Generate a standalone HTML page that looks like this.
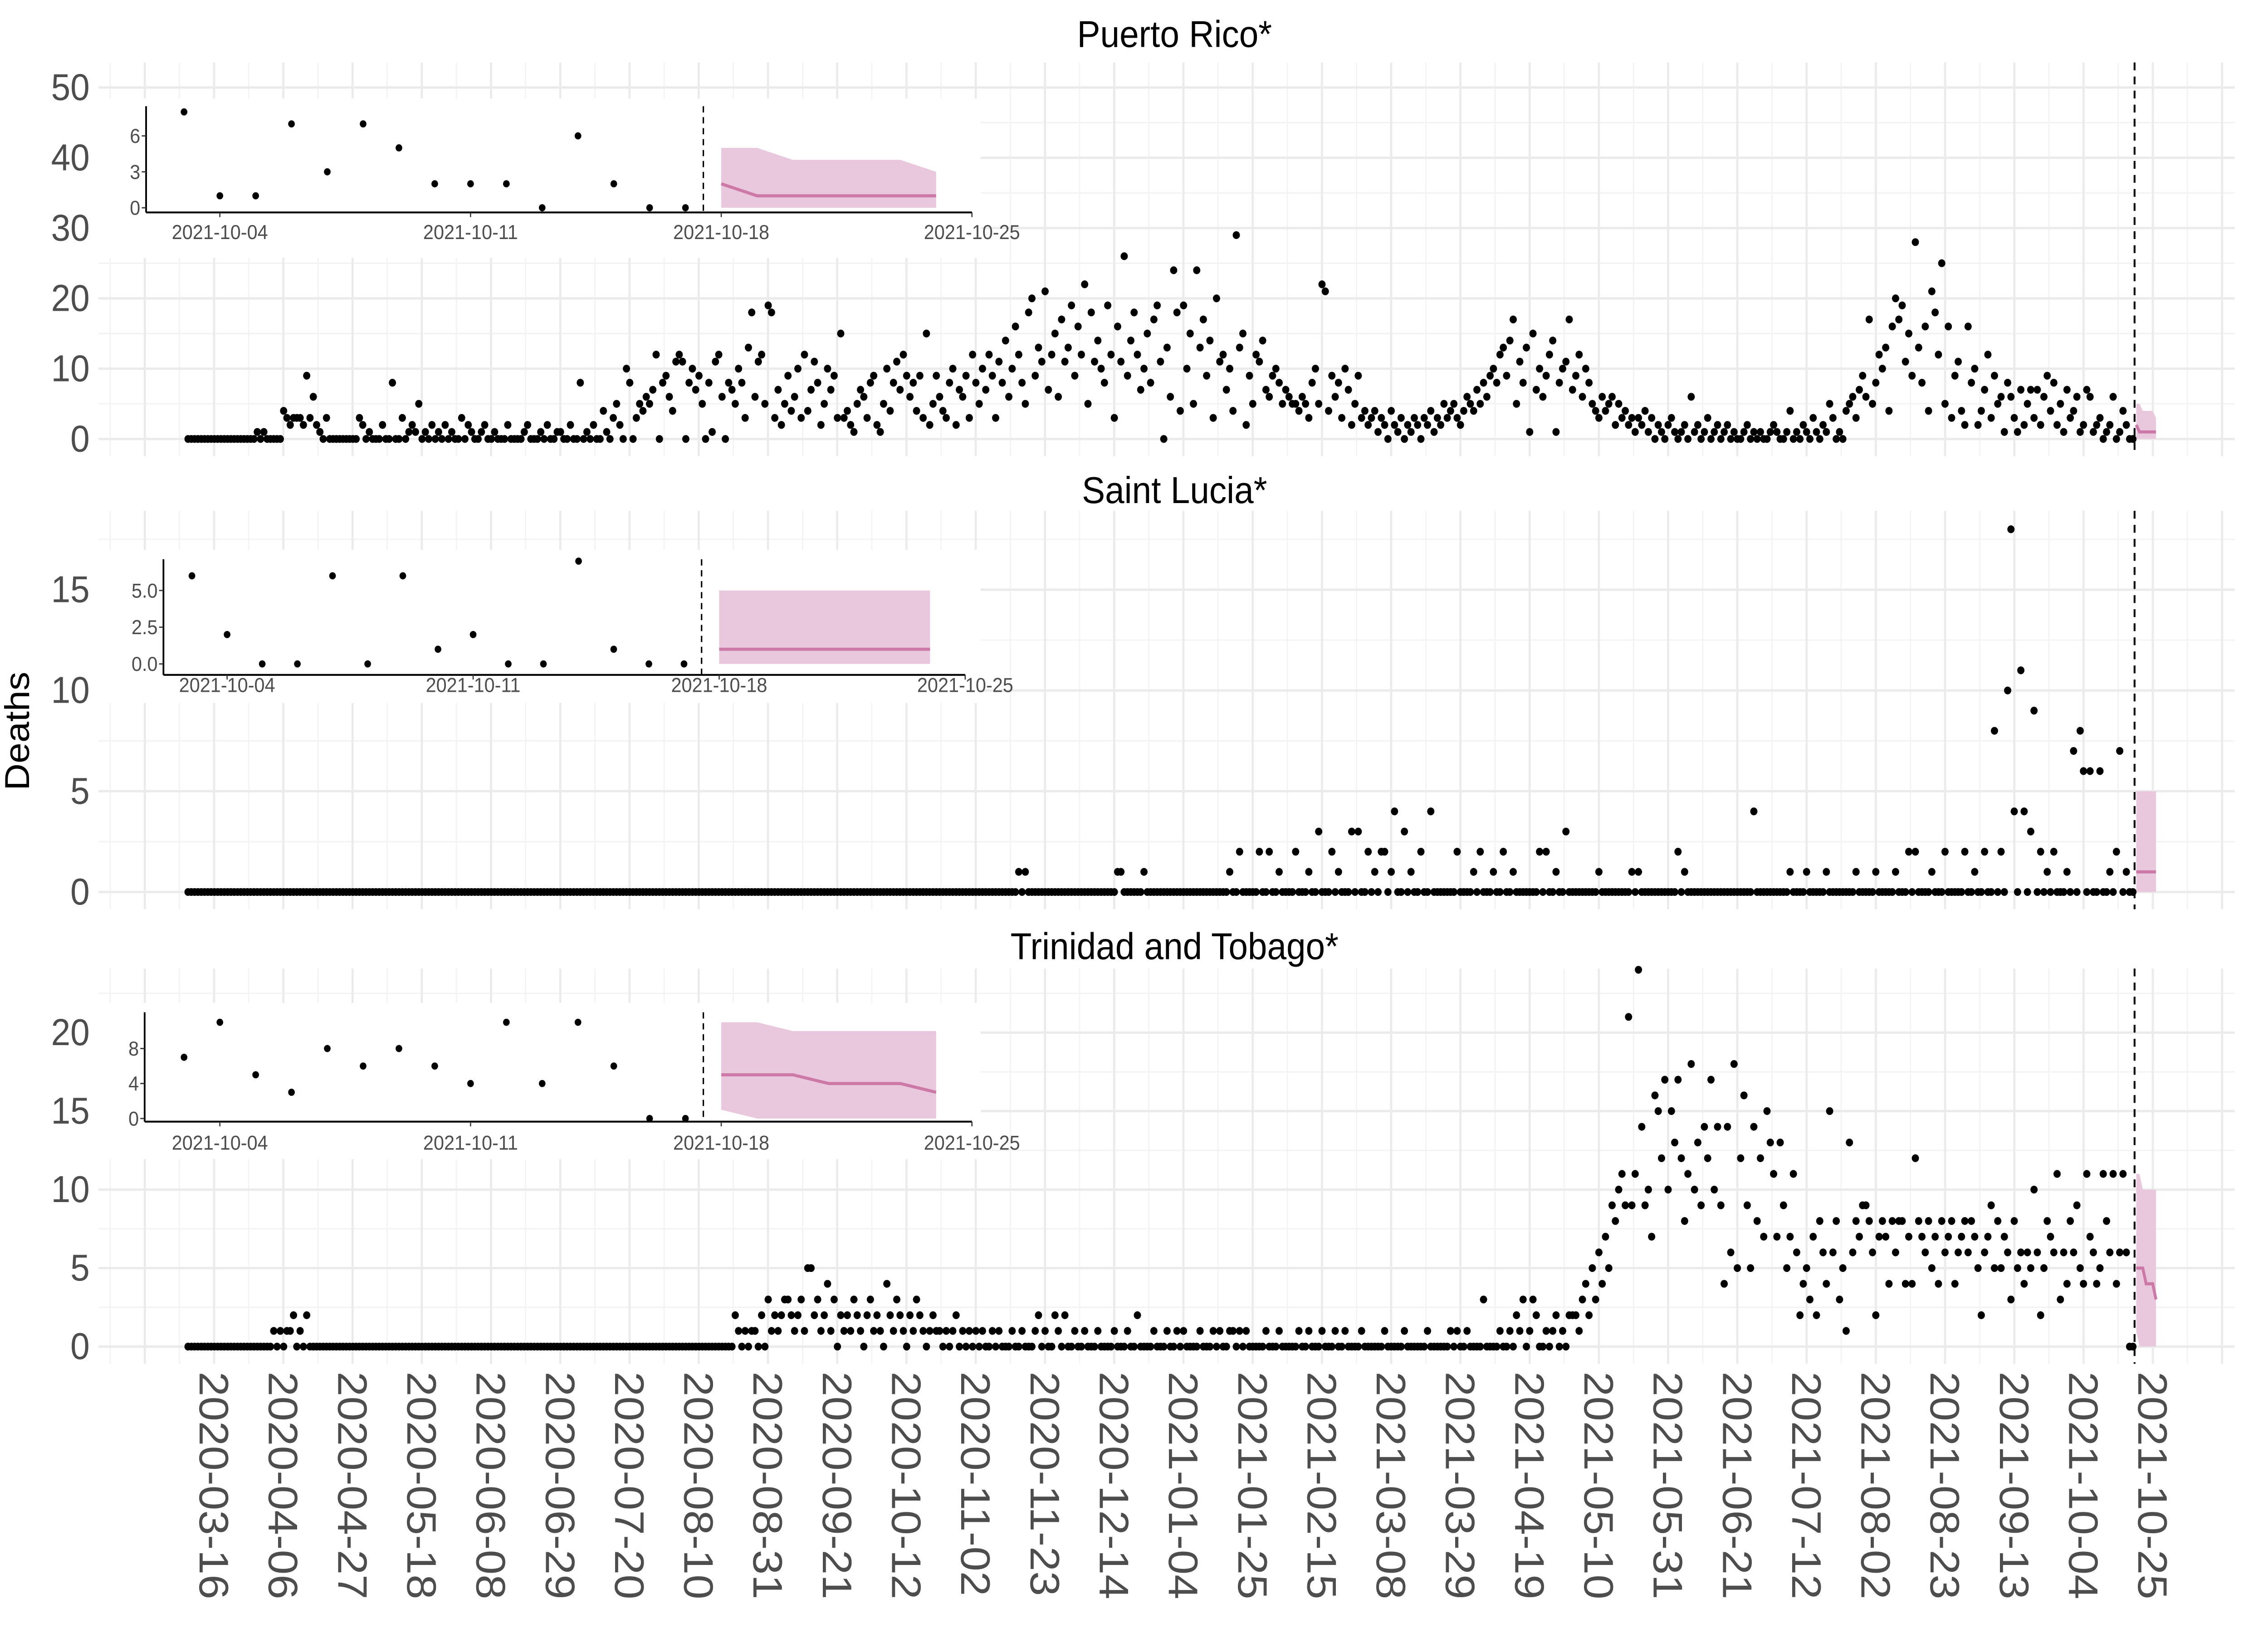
<!DOCTYPE html>
<html><head><meta charset="utf-8">
<style>
html,body{margin:0;padding:0;background:#fff;width:100%;height:100%;overflow:hidden;}
svg{display:block;font-family:"Liberation Sans",Arial,sans-serif;width:100vw;height:100vh;}
</style></head>
<body>
<svg id="chart" viewBox="0 0 1568 1045.33" preserveAspectRatio="none" xmlns="http://www.w3.org/2000/svg">
<rect x="0" y="0" width="1568" height="1046" fill="#fff"/>
<text x="20" y="468" font-size="24" fill="#000" text-anchor="middle" transform="rotate(-90 20 468)">Deaths</text>
</svg>
<script>
// ---- data ----
const xTickLabels = ["2020-03-16","2020-04-06","2020-04-27","2020-05-18","2020-06-08","2020-06-29","2020-07-20","2020-08-10","2020-08-31","2020-09-21","2020-10-12","2020-11-02","2020-11-23","2020-12-14","2021-01-04","2021-01-25","2021-02-15","2021-03-08","2021-03-29","2021-04-19","2021-05-10","2021-05-31","2021-06-21","2021-07-12","2021-08-02","2021-08-23","2021-09-13","2021-10-04","2021-10-25"];
const panelTitles = ["Puerto Rico*","Saint Lucia*","Trinidad and Tobago*"];

const prDeaths = [
0,0,0,0,0,0,0,0,0,0,0,0,0,0,0,0,0,0,0,0,
0,1,0,1,0,0,0,0,0,4,3,2,3,3,3,2,9,3,6,2,
1,0,3,0,0,0,0,0,0,0,0,0,3,2,0,1,0,0,0,2,
0,0,8,0,0,3,0,1,2,1,5,0,1,0,2,0,1,0,2,0,
1,0,0,3,0,2,1,0,0,1,2,0,0,1,0,0,0,2,0,0,
0,0,1,2,0,0,0,1,0,2,0,0,1,1,0,0,2,0,0,8,
0,1,0,2,0,0,4,1,0,3,5,2,0,10,8,0,3,5,4,6,
5,7,12,0,8,9,6,4,11,12,11,0,8,10,7,9,5,0,8,1,
11,12,6,0,8,7,5,10,8,3,13,18,6,11,12,5,19,18,3,7,
2,5,9,4,6,10,3,12,4,7,11,8,2,5,10,7,9,3,15,3,
4,2,1,5,7,6,3,8,9,2,1,5,10,4,8,11,7,12,9,6,
8,4,9,3,15,2,5,9,6,4,3,8,10,2,7,6,9,3,12,8,
5,10,7,12,9,3,11,8,14,6,10,16,12,8,5,18,20,9,13,11,
21,7,12,15,6,17,11,13,19,9,16,12,22,5,18,11,14,10,8,19,
12,3,16,11,26,9,14,18,12,7,10,15,8,17,19,11,0,13,6,24,
18,4,19,10,15,5,24,13,17,9,14,3,20,11,12,7,10,4,29,13,
15,2,9,5,12,11,14,7,6,9,10,8,5,7,6,5,5,4,6,5,
3,8,10,5,22,21,4,9,6,8,3,10,7,2,5,9,3,4,2,3,
4,1,3,2,0,4,2,1,3,0,2,1,3,2,0,3,2,4,1,3,
2,5,3,4,5,3,2,4,6,5,4,7,5,8,6,9,10,8,12,13,
9,14,17,5,11,8,13,1,15,7,10,6,9,12,14,1,8,10,11,17,
7,9,12,6,10,8,5,4,3,6,4,5,6,2,5,3,4,2,3,1,
3,2,4,1,3,0,2,1,0,2,3,1,0,1,2,0,6,1,2,0,
1,3,0,1,2,0,1,2,0,1,0,0,1,2,0,1,0,1,0,0,
1,2,1,0,0,1,4,0,1,0,2,1,0,3,1,0,2,1,5,3,
0,1,0,4,5,6,3,7,9,6,17,5,8,12,10,13,4,16,20,17,
19,11,15,9,28,13,8,16,4,21,18,12,25,5,16,3,9,11,4,2,
16,8,10,2,4,7,12,3,9,5,6,1,8,6,3,1,7,2,5,7,
3,7,2,6,9,4,8,2,5,1,7,3,4,6,1,2,7,6,1,2,3,0,1,2,6,0,1,4,2,0,0];

const slDeaths = [
0,0,0,0,0,0,0,0,0,0,0,0,0,0,0,0,0,0,0,0,
0,0,0,0,0,0,0,0,0,0,0,0,0,0,0,0,0,0,0,0,
0,0,0,0,0,0,0,0,0,0,0,0,0,0,0,0,0,0,0,0,
0,0,0,0,0,0,0,0,0,0,0,0,0,0,0,0,0,0,0,0,
0,0,0,0,0,0,0,0,0,0,0,0,0,0,0,0,0,0,0,0,
0,0,0,0,0,0,0,0,0,0,0,0,0,0,0,0,0,0,0,0,
0,0,0,0,0,0,0,0,0,0,0,0,0,0,0,0,0,0,0,0,
0,0,0,0,0,0,0,0,0,0,0,0,0,0,0,0,0,0,0,0,
0,0,0,0,0,0,0,0,0,0,0,0,0,0,0,0,0,0,0,0,
0,0,0,0,0,0,0,0,0,0,0,0,0,0,0,0,0,0,0,0,
0,0,0,0,0,0,0,0,0,0,0,0,0,0,0,0,0,0,0,0,
0,0,0,0,0,0,0,0,0,0,0,0,0,0,0,0,0,0,0,0,
0,0,0,0,0,0,0,0,0,0,0,0,1,0,1,0,0,0,0,0,
0,0,0,0,0,0,0,0,0,0,0,0,0,0,0,0,0,0,0,0,
0,0,1,1,0,0,0,0,0,0,1,0,0,0,0,0,0,0,0,0,
0,0,0,0,0,0,0,0,0,0,0,0,0,0,0,0,1,0,0,2,
0,0,0,0,0,2,0,0,2,0,0,1,0,0,0,0,2,0,0,0,
1,0,0,3,0,0,0,2,0,1,0,0,0,3,0,3,0,0,2,0,
1,0,2,2,0,1,4,0,0,3,0,1,0,0,2,0,0,4,0,0,
0,0,0,0,0,2,0,0,0,0,1,0,2,0,0,0,1,0,0,2,
0,0,1,0,0,0,0,0,0,0,2,0,2,0,0,1,0,0,3,0,
0,0,0,0,0,0,0,0,1,0,0,0,0,0,0,0,0,0,1,0,
1,0,0,0,0,0,0,0,0,0,0,0,2,0,1,0,0,0,0,0,
0,0,0,0,0,0,0,0,0,0,0,0,0,0,0,4,0,0,0,0,
0,0,0,0,0,0,1,0,0,0,0,1,0,0,0,0,0,1,0,0,
0,0,0,0,0,0,1,0,0,0,0,0,1,0,0,0,0,0,1,0,
0,0,2,0,2,0,0,0,0,1,0,0,0,2,0,0,0,0,0,2,
0,0,1,0,0,2,0,0,8,0,2,0,10,18,4,0,11,4,0,3,
9,0,2,0,1,0,2,0,0,0,1,0,7,0,8,6,0,6,0,0,
6,0,0,1,0,2,7,0,1,0,0];

const ttDeaths = [
0,0,0,0,0,0,0,0,0,0,0,0,0,0,0,0,0,0,0,0,
0,0,0,0,0,0,1,0,1,0,1,1,2,0,1,0,2,0,0,0,
0,0,0,0,0,0,0,0,0,0,0,0,0,0,0,0,0,0,0,0,
0,0,0,0,0,0,0,0,0,0,0,0,0,0,0,0,0,0,0,0,
0,0,0,0,0,0,0,0,0,0,0,0,0,0,0,0,0,0,0,0,
0,0,0,0,0,0,0,0,0,0,0,0,0,0,0,0,0,0,0,0,
0,0,0,0,0,0,0,0,0,0,0,0,0,0,0,0,0,0,0,0,
0,0,0,0,0,0,0,0,0,0,0,0,0,0,0,0,0,0,0,0,
0,0,0,0,0,0,2,1,0,1,0,1,1,0,2,0,3,1,2,1,
2,3,3,2,1,2,3,1,5,5,2,3,1,2,4,1,3,0,2,1,
2,1,3,2,1,0,2,3,1,2,1,0,4,2,1,3,2,1,0,2,
1,3,2,1,0,1,2,1,1,0,1,0,1,2,0,1,0,1,0,1,
0,1,0,0,1,0,1,0,0,0,1,0,0,1,0,0,0,1,2,0,
1,0,0,2,1,0,2,0,0,1,0,0,1,0,0,0,1,0,0,0,
0,1,0,0,0,1,0,0,2,0,0,0,0,1,0,0,0,1,0,0,
1,0,1,0,0,0,0,1,0,0,0,1,0,1,0,0,1,1,0,1,
0,1,0,0,0,0,0,1,0,0,0,1,0,0,0,0,0,1,0,0,
1,0,0,0,1,0,0,0,1,0,0,1,0,0,0,0,1,0,0,0,
0,0,0,1,0,0,0,0,0,1,0,0,0,0,0,0,1,0,0,0,
0,0,0,1,0,1,0,0,1,0,0,0,0,3,0,0,0,0,1,0,
0,1,0,2,1,3,0,1,3,2,0,0,1,0,1,2,0,1,0,2,
2,2,1,3,4,2,5,3,6,4,7,5,9,8,10,11,9,21,9,11,
24,14,9,10,7,16,15,12,17,10,15,13,17,12,8,11,18,10,13,9,
14,12,17,10,14,9,4,14,6,18,5,12,16,9,5,14,8,12,7,15,
13,11,7,13,9,5,7,11,6,2,4,5,3,7,2,8,6,4,15,6,
8,3,5,1,13,6,8,7,9,9,8,6,2,7,8,7,4,8,6,8,
8,4,7,4,12,8,7,6,8,5,7,4,8,6,7,8,4,6,7,8,
6,8,7,5,2,6,7,9,5,8,5,7,6,3,8,5,6,4,6,5,
10,6,2,5,8,7,6,11,3,6,4,8,6,9,5,4,11,7,6,4,
5,11,8,6,11,4,6,11,6,0,0];

// forecasts (7 days)
const prFcMean = [2,1,1,1,1,1,1];
const prFcUpper = [5,5,4,4,4,4,3];
const prFcLower = [0,0,0,0,0,0,0];
const slFcMean = [1,1,1,1,1,1,1];
const slFcUpper = [5,5,5,5,5,5,5];
const slFcLower = [0,0,0,0,0,0,0];
const ttFcMean = [5,5,5,4,4,4,3];
const ttFcUpper = [11,11,10,10,10,10,10];
const ttFcLower = [1,0,0,0,0,0,0];

// inset observed (Oct 3 .. Oct 17)
const insetDays = [3,4,5,6,7,8,9,10,11,12,13,14,15,16,17];
const prInset = [8,1,1,7,3,7,5,2,2,2,0,6,2,0,0];
const slInset = [6,2,0,0,6,0,6,1,2,0,0,7,1,0,0];
const ttInset = [7,11,5,3,8,6,8,6,4,11,4,11,6,0,0];
const fcDays = [18,19,20,21,22,23,24];
const insetXLabels = ["2021-10-04","2021-10-11","2021-10-18","2021-10-25"];
const insetXTickDays = [4,11,18,25];
const prInsetTicks = [0,3,6];
const slInsetTicks = [0,2.5,5];
const slInsetTickLabels = ["0.0","2.5","5.0"];
const ttInsetTicks = [0,4,8];

const prYTicks = [0,10,20,30,40,50];
const slYTicks = [0,5,10,15];
const ttYTicks = [0,5,10,15,20];

// ---- drawing ----
const svg = document.getElementById('chart');
const NS = 'http://www.w3.org/2000/svg';
function mk(tag, attrs, parent){
  const e = document.createElementNS(NS, tag);
  for (const k in attrs) e.setAttribute(k, attrs[k]);
  (parent||svg).appendChild(e);
  return e;
}
const xDay = d => 130 + d*2.279;
const X0 = 68, X1 = 1545;
const RIB = '#e9c8dd', LINE = '#cc79a7';

const panels = [
  {title:panelTitles[0], ty:30, top:40, bot:292, y0:281, k:4.5, ticks:prYTicks, minor:[5,15,25,35,45,55], data:prDeaths, fm:prFcMean, fu:prFcUpper, fl:prFcLower, name:'puerto-rico'},
  {title:panelTitles[1], ty:322, top:327, bot:582, y0:571, k:12.9, ticks:slYTicks, minor:[2.5,7.5,12.5,17.5], data:slDeaths, fm:slFcMean, fu:slFcUpper, fl:slFcLower, name:'saint-lucia'},
  {title:panelTitles[2], ty:614, top:620, bot:873, y0:862, k:10.05, ticks:ttYTicks, minor:[2.5,7.5,12.5,17.5,22.5], data:ttDeaths, fm:ttFcMean, fu:ttFcUpper, fl:ttFcLower, name:'trinidad-and-tobago'}
];

panels.forEach(p => {
  const g = mk('g', {});
  
  
  const ys = v => p.y0 - v*p.k;
  p.minor.forEach(v => { const y = ys(v); if (y>p.top && y<p.bot) { const l = mk('line',{x1:X0,x2:X1,y1:y,y2:y,stroke:'#f3f3f3','stroke-width':0.9},g);   }});
  for (let k=-2;k<=29;k++){ const x = 148 + (k+0.5)*47.87; if (x>X0 && x<X1){ const l = mk('line',{x1:x,x2:x,y1:p.top,y2:p.bot,stroke:'#f3f3f3','stroke-width':0.9},g);   } }
  p.ticks.forEach(v => { const y = ys(v); const l = mk('line',{x1:X0,x2:X1,y1:y,y2:y,stroke:'#ebebeb','stroke-width':1.5},g);  
    const t = mk('text',{x:62,y:y+8,'font-size':24,fill:'#4d4d4d','text-anchor':'end'},g); t.textContent = v;   });
  for (let k=-1;k<=29;k++){ const x = 148 + k*47.87; if (x>X0 && x<X1){ const l = mk('line',{x1:x,x2:x,y1:p.top,y2:p.bot,stroke:'#ebebeb','stroke-width':1.5},g);   } }
  const tt = mk('text',{x:812,y:p.ty,'font-size':24,fill:'#000','text-anchor':'middle'},g);
  tt.textContent = p.title;
  
  
  const n = p.fm.length, d0 = p.data.length;
  let pts = [];
  for (let i=0;i<n;i++) pts.push(xDay(d0+i)+','+ys(p.fu[i]));
  for (let i=n-1;i>=0;i--) pts.push(xDay(d0+i)+','+ys(p.fl[i]));
  const rb = mk('polygon',{points:pts.join(' '),fill:RIB},g);
  
  
  const ml = mk('polyline',{points:p.fm.map((v,i)=>xDay(d0+i)+','+ys(v)).join(' '),fill:'none',stroke:LINE,'stroke-width':2},g);
  
  
  p.data.forEach((v,i) => { const c = mk('circle',{cx:xDay(i),cy:ys(v),r:2.5,fill:'#000'},g);
    
     });
  const dl = mk('line',{x1:xDay(d0-0.5),x2:xDay(d0-0.5),y1:p.top,y2:p.bot,stroke:'#000','stroke-width':1.3,'stroke-dasharray':'5,4'},g);
  
  
});

xTickLabels.forEach((lab,k) => {
  const x = 148 + k*47.87;
  const t = mk('text',{x:0,y:0,'font-size':28.5,fill:'#4d4d4d',transform:`translate(${x-10},878) rotate(90)`});
  t.textContent = lab;
  
  
});

const insets = [
  {name:'puerto-rico', box:[68,63,610,102], ax:101, top:68, axy:136, y0:133, k:7.67, xa:152, xk:24.76, ticks:prInsetTicks, tl:prInsetTicks.map(String), obs:prInset, fm:prFcMean, fu:prFcUpper, fl:prFcLower, labY:153},
  {name:'saint-lucia', box:[68,352,610,98], ax:113, top:358, axy:432, y0:425, k:9.4, xa:157, xk:24.3, ticks:slInsetTicks, tl:slInsetTickLabels, obs:slInset, fm:slFcMean, fu:slFcUpper, fl:slFcLower, labY:443},
  {name:'trinidad-and-tobago', box:[68,642,610,100], ax:100, top:648, axy:718, y0:716, k:5.6, xa:152, xk:24.76, ticks:ttInsetTicks, tl:ttInsetTicks.map(String), obs:ttInset, fm:ttFcMean, fu:ttFcUpper, fl:ttFcLower, labY:736}
];
insets.forEach(s => {
  const g = mk('g', {});
  
  
  mk('rect',{x:s.box[0],y:s.box[1],width:s.box[2],height:s.box[3],fill:'#fff'},g);
  const xs = d => s.xa + (d-4)*s.xk;
  const ys = v => s.y0 - v*s.k;
  let pts = [];
  fcDays.forEach((d,i)=>pts.push(xs(d)+','+ys(s.fu[i])));
  for (let i=fcDays.length-1;i>=0;i--) pts.push(xs(fcDays[i])+','+ys(s.fl[i]));
  const rb = mk('polygon',{points:pts.join(' '),fill:RIB},g);
  
  
  const ml = mk('polyline',{points:fcDays.map((d,i)=>xs(d)+','+ys(s.fm[i])).join(' '),fill:'none',stroke:LINE,'stroke-width':2},g);
  
  
  s.obs.forEach((v,i)=>{ const c = mk('circle',{cx:xs(insetDays[i]),cy:ys(v),r:2.3,fill:'#000'},g);
    
     });
  const dl = mk('line',{x1:xs(17.5),x2:xs(17.5),y1:s.top,y2:s.axy,stroke:'#000','stroke-width':1,'stroke-dasharray':'4,3'},g);
  
  
  const ya = mk('line',{x1:s.ax,x2:s.ax,y1:s.top,y2:s.axy,stroke:'#000','stroke-width':1.2},g);
  
  
  const xa = mk('line',{x1:s.ax,x2:xs(25),y1:s.axy,y2:s.axy,stroke:'#000','stroke-width':1.2},g);
  
  
  s.ticks.forEach((v,i)=>{ const y = ys(v);
    mk('line',{x1:s.ax-3,x2:s.ax,y1:y,y2:y,stroke:'#333','stroke-width':0.8},g);
    const t = mk('text',{x:s.ax-4,y:y+4.5,'font-size':13,fill:'#4d4d4d','text-anchor':'end'},g);
    t.textContent = s.tl[i];
    
     });
  insetXTickDays.forEach((d,i)=>{ const x = xs(d);
    mk('line',{x1:x,x2:x,y1:s.axy,y2:s.axy+3,stroke:'#333','stroke-width':0.8},g);
    const t = mk('text',{x:x,y:s.labY,'font-size':13,fill:'#4d4d4d','text-anchor':'middle'},g);
    t.textContent = insetXLabels[i];
    
     });
});
</script>
</body></html>
